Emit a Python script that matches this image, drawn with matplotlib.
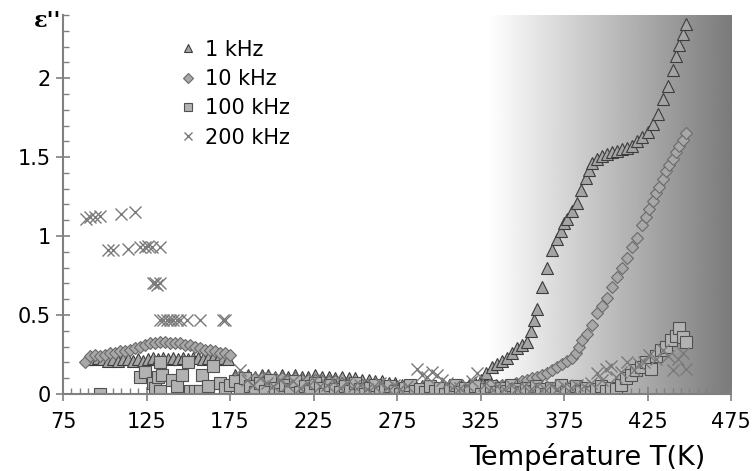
import matplotlib.pyplot as plt
import numpy as np
from matplotlib.ticker import MultipleLocator, FormatStrFormatter

plt.rcParams['font.family'] = ['DejaVu Sans']

# 1 kHz
T_1k = [90, 93, 96, 99, 102, 105, 108, 111, 114, 117, 120, 123, 126, 129, 132, 135, 138, 141, 144, 147,
        150, 153, 156, 159, 162, 165, 168, 171, 174,
        178, 182, 186, 190, 194, 198, 202, 206, 210, 214, 218, 222, 226, 230, 234, 238, 242, 246, 250, 254,
        258, 262, 266, 270, 274, 278, 282, 286, 290, 294, 298, 302, 306, 310, 314, 318, 322,
        325, 328, 332, 335, 338, 341, 344, 347, 350, 353, 355, 357, 359, 362, 365, 368, 371, 373, 375, 377,
        380, 383, 385, 388, 390, 392, 395, 398, 401, 404, 407, 410, 413, 416, 419, 422, 425, 428, 431, 434,
        437, 440, 442, 444, 446, 448]
eps_1k = [0.22, 0.22, 0.23, 0.22, 0.21, 0.22, 0.21, 0.22, 0.22, 0.21, 0.22, 0.21, 0.22, 0.23, 0.22, 0.23,
          0.22, 0.23, 0.22, 0.23, 0.22, 0.23, 0.23, 0.22, 0.23, 0.23, 0.22, 0.23, 0.22,
          0.12, 0.11, 0.12, 0.11, 0.12, 0.12, 0.11, 0.12, 0.11, 0.12, 0.11, 0.11, 0.12, 0.11, 0.11, 0.10,
          0.11, 0.10, 0.10, 0.09, 0.09, 0.08, 0.08, 0.07, 0.07, 0.06, 0.06, 0.06, 0.05, 0.05, 0.05, 0.05,
          0.05, 0.05, 0.06, 0.06, 0.07,
          0.09, 0.13, 0.17, 0.19, 0.21, 0.23, 0.26, 0.29, 0.31, 0.33, 0.40, 0.47, 0.54, 0.68, 0.80, 0.91,
          0.98, 1.03, 1.08, 1.11, 1.16, 1.21, 1.29, 1.37, 1.42, 1.46, 1.49, 1.51, 1.52, 1.53, 1.54, 1.55,
          1.56, 1.57, 1.60, 1.63, 1.66, 1.71, 1.77, 1.87, 1.95, 2.05, 2.14, 2.21, 2.28, 2.34]

# 10 kHz
T_10k = [88, 91, 94, 97, 100, 103, 106, 109, 112, 115, 118, 121, 124, 127, 130, 133, 136, 139, 142, 145,
         148, 151, 154, 157, 160, 163, 166, 169, 172, 175,
         178, 182, 186, 190, 194, 198, 202, 206, 210, 214, 218, 222, 226, 230, 234, 238, 242, 246, 250, 254,
         258, 262, 266, 270, 274, 278, 282, 286, 290, 294, 298, 302, 306, 310, 314, 318, 322, 326, 330, 334,
         338, 342, 346,
         350, 353, 356, 359, 362, 365, 368, 371, 374, 377, 380, 382, 384, 386, 389, 392, 395, 398, 401, 404,
         407, 410, 413, 416, 419, 422, 424, 426, 428, 430, 432, 434, 436, 438, 440, 442, 444, 446, 448]
eps_10k = [0.20, 0.24, 0.25, 0.24, 0.25, 0.26, 0.26, 0.27, 0.27, 0.28, 0.29, 0.30, 0.31, 0.32, 0.32, 0.33,
           0.33, 0.32, 0.32, 0.32, 0.31, 0.31, 0.30, 0.29, 0.28, 0.28, 0.27, 0.26, 0.26, 0.25,
           0.10, 0.10, 0.11, 0.10, 0.10, 0.11, 0.10, 0.10, 0.09, 0.10, 0.09, 0.09, 0.09, 0.08, 0.08, 0.08,
           0.07, 0.07, 0.07, 0.06, 0.06, 0.05, 0.05, 0.05, 0.04, 0.04, 0.04, 0.04, 0.04, 0.04, 0.04, 0.04,
           0.04, 0.04, 0.05, 0.05, 0.05, 0.05, 0.05, 0.06, 0.06, 0.06, 0.07,
           0.08, 0.09, 0.10, 0.11, 0.12, 0.13, 0.15, 0.17, 0.19, 0.21, 0.23, 0.26, 0.30, 0.34, 0.38, 0.44,
           0.51, 0.56, 0.61, 0.68, 0.74, 0.80, 0.86, 0.93, 0.99, 1.07, 1.12, 1.17, 1.22, 1.27, 1.31, 1.36,
           1.41, 1.45, 1.49, 1.53, 1.57, 1.61, 1.65]

# 100 kHz
T_100k = [97, 121, 124, 129, 130, 132, 133, 133, 134, 140, 143, 146, 150, 151, 154, 157, 158, 162, 165, 169,
          172, 175,
          178, 181, 184, 187, 190, 193, 196, 199, 202, 205, 208, 211, 214, 217, 220, 223, 226, 229, 232, 235,
          238, 241, 244, 247, 250, 253, 256, 259, 262, 265, 268, 271, 274, 277, 280, 283, 286, 289, 292, 295,
          298, 301, 304, 307, 310, 313, 316, 319, 322, 325, 328, 331, 334, 337, 340, 343, 346, 349, 352, 355,
          358, 361, 364, 367, 370, 373, 376, 379, 382, 385, 388, 391, 394, 397, 400, 403, 406,
          409, 412, 415, 418, 421, 424, 427, 430, 433, 436, 439, 442, 444, 446, 448]
eps_100k = [0.00, 0.11, 0.14, 0.07, 0.04, 0.11, 0.02, 0.20, 0.12, 0.09, 0.05, 0.12, 0.20, 0.02, 0.02, 0.02,
            0.12, 0.05, 0.18, 0.07, 0.04, 0.06,
            0.08, 0.03, 0.10, 0.05, 0.01, 0.07, 0.02, 0.09, 0.04, 0.00, 0.06, 0.03, 0.08, 0.01, 0.05, 0.02,
            0.07, 0.04, 0.00, 0.06, 0.03, 0.01, 0.05, 0.02, 0.07, 0.03, 0.00, 0.04, 0.06, 0.01, 0.03, 0.05,
            0.02, 0.00, 0.04, 0.06, 0.02, 0.03, 0.01, 0.05, 0.02, 0.04, 0.00, 0.03, 0.06, 0.01, 0.04, 0.02,
            0.05, 0.00, 0.03, 0.05, 0.01, 0.04, 0.02, 0.06, 0.03, 0.01, 0.04, 0.02, 0.05, 0.03, 0.00, 0.04,
            0.02, 0.06, 0.01, 0.03, 0.05, 0.02, 0.04, 0.01, 0.03, 0.05, 0.02, 0.04, 0.03,
            0.06, 0.10, 0.12, 0.15, 0.17, 0.20, 0.16, 0.24, 0.28, 0.30, 0.34, 0.37, 0.42, 0.36, 0.33]

# 200 kHz
T_200k = [89, 91, 94, 97, 110, 118, 102, 105, 114, 121, 124, 126, 128, 133, 129, 130, 131, 133,
          133, 135, 137, 139, 141, 143, 145, 149, 157, 171, 172,
          181, 185, 189, 193, 197, 201, 205, 209, 213, 217, 221, 225, 229, 233, 237, 241, 245, 249, 253, 257,
          261, 265, 269, 273, 277, 281,
          287, 290, 293, 296, 299, 302, 305, 309, 313, 317, 320, 323, 327, 331, 335, 339, 343, 347, 351, 355,
          359, 363, 367, 371, 375, 379, 383, 387, 391,
          395, 398, 400, 403, 406, 409, 413, 417, 420, 423, 426, 430, 434, 437, 440, 443, 446, 448]
eps_200k = [1.11, 1.12, 1.12, 1.13, 1.14, 1.15, 0.91, 0.91, 0.92, 0.93, 0.93, 0.94, 0.93, 0.93,
            0.70, 0.70, 0.69, 0.70,
            0.47, 0.47, 0.47, 0.47, 0.47, 0.47, 0.47, 0.47, 0.47, 0.47, 0.47,
            0.15, 0.09, 0.06, 0.10, 0.07, 0.05, 0.09, 0.06, 0.08, 0.04, 0.07, 0.09, 0.05, 0.06, 0.08, 0.04,
            0.07, 0.05, 0.06, 0.03, 0.05, 0.07, 0.04, 0.06, 0.03, 0.05,
            0.16, 0.12, 0.11, 0.14, 0.12, 0.09, 0.07, 0.05, 0.04, 0.06, 0.08, 0.13, 0.06, 0.04, 0.05, 0.03,
            0.06, 0.04, 0.05, 0.03, 0.05, 0.04, 0.06, 0.03, 0.05, 0.04, 0.06, 0.05, 0.07,
            0.13, 0.09, 0.16, 0.18, 0.11, 0.14, 0.20, 0.15, 0.19, 0.20, 0.25, 0.22, 0.28, 0.24, 0.15, 0.22,
            0.26, 0.16]

x_ticks = [75, 125, 175, 225, 275, 325, 375, 425, 475]

fig = plt.figure(figsize=(7.52, 4.71), dpi=100)
ax = fig.add_axes([63 / 752, 1 - 394 / 471, 668 / 752, 379 / 471])

# shaded background on the hot side
grad = np.linspace(1.0, 0.48, 256).reshape(1, -1)
ax.imshow(grad, extent=[330, 475, 0, 2.4], aspect='auto', cmap='gray', vmin=0, vmax=1,
          origin='lower', zorder=0, interpolation='bilinear')

ax.plot(T_1k, eps_1k, ls='none', marker='^', ms=8.5, mfc='#a4a4a4', mec='#3c3c3c', mew=0.8,
        label='1 kHz', zorder=3)
ax.plot(T_10k, eps_10k, ls='none', marker='D', ms=6.5, mfc='#a8a8a8', mec='#6a6a6a', mew=0.8,
        label='10 kHz', zorder=3)
ax.plot(T_100k, eps_100k, ls='none', marker='s', ms=8.5, mfc='#b2b2b2', mec='#505050', mew=0.8,
        label='100 kHz', zorder=4)
ax.plot(T_200k, eps_200k, ls='none', marker='x', ms=8.5, color='#7a7a7a', mew=1.0,
        label='200 kHz', zorder=5)

ax.set_xlim(75, 475)
ax.set_ylim(0, 2.4)
ax.set_xticks(x_ticks)
ax.xaxis.set_minor_locator(MultipleLocator(5))
ax.yaxis.set_major_locator(MultipleLocator(0.5))
ax.yaxis.set_minor_locator(MultipleLocator(0.1))
ax.yaxis.set_major_formatter(FormatStrFormatter('%g'))

for s in ['top', 'right']:
    ax.spines[s].set_visible(False)
for s in ['left', 'bottom']:
    ax.spines[s].set_color('#808080')
    ax.spines[s].set_linewidth(1.5)
    ax.spines[s].set_zorder(6)

ax.tick_params(which='major', direction='inout', length=10, width=1.2, color='#808080',
               labelsize=15, pad=4)
ax.tick_params(which='minor', direction='in', length=4, width=1.0, color='#808080')
ax.tick_params(axis='x', which='major', pad=8)

fig.text(34 / 752, 1 - 21 / 471, "ε''", fontsize=16, family=['DejaVu Serif'], fontweight='bold',
         va='center', ha='left')
fig.text(705 / 752, 1 - 457 / 471, 'Température T(K)', fontsize=19.5, ha='right', va='center')

ax.legend(loc='upper left', bbox_to_anchor=(0.175, 0.935), frameon=False, fontsize=15,
          handlelength=0.8, handletextpad=0.4, labelspacing=0.45, borderaxespad=0, borderpad=0,
          markerscale=0.75)

fig.savefig('out.png', dpi=100)
